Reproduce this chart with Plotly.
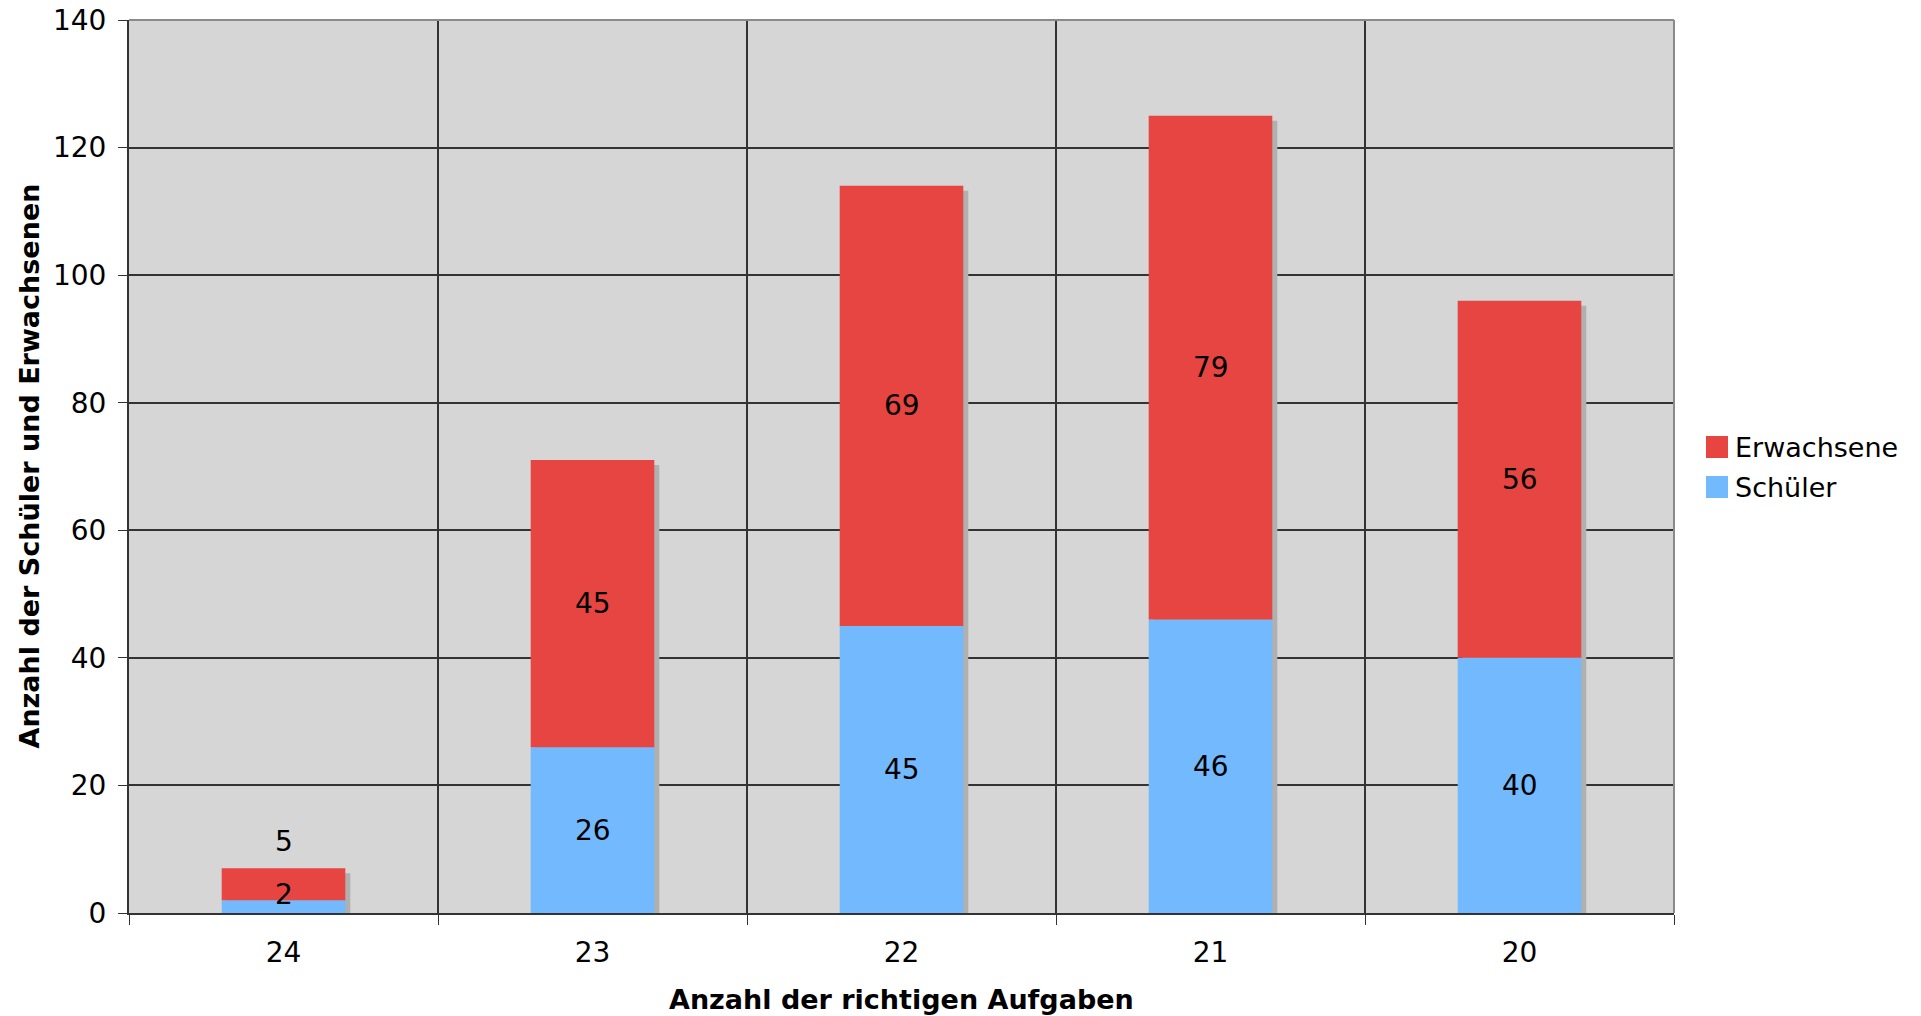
import plotly.graph_objects as go

categories = ["24", "23", "22", "21", "20"]
schueler = [2, 26, 45, 46, 40]
erwachsene = [5, 45, 69, 79, 56]
series_names = ["Erwachsene", "Schüler"]

RED = "#e64541"
BLUE = "#73b9fe"
SHADOW = "#b0b0b0"
FONT = "DejaVu Sans"

x = list(range(len(categories)))
totals = [s + e for s, e in zip(schueler, erwachsene)]

# page body has an 8px margin; plot box on screen: x 129..1674, y 20..913
OFF = 8
PL, PR, PT, PB = 129, 1674, 20, 913
W, H = 1905, 1008
ml, mt = PL - OFF, PT - OFF
mr = W - (PR - OFF)
mb = H - (PB - OFF)
plot_w = PR - PL
plot_h = PB - PT
ymax = 140
bw = 0.4
sx = 5 / (plot_w / len(categories))
sy = 5 / plot_h * ymax


def px(X):
    return (X - PL) / plot_w


def py(Y):
    return (PB - Y) / plot_h


fig = go.Figure()
fig.add_trace(go.Bar(x=x, y=[t - sy for t in totals], base=[0] * len(x), width=bw,
                     offset=-bw / 2 + sx, marker=dict(color=SHADOW, line_width=0),
                     showlegend=False, hoverinfo="skip"))
fig.add_trace(go.Bar(x=x, y=schueler, base=[0] * len(x), width=bw, offset=-bw / 2,
                     name="Schüler", marker=dict(color=BLUE, line_width=0), showlegend=False))
fig.add_trace(go.Bar(x=x, y=erwachsene, base=schueler, width=bw, offset=-bw / 2,
                     name="Erwachsene", marker=dict(color=RED, line_width=0), showlegend=False))

# labels
for i, (s, e) in enumerate(zip(schueler, erwachsene)):
    small = (s + e) < 15
    fig.add_annotation(x=x[i], y=s / 2, text=str(s), showarrow=False,
                       yshift=12 if small else 0, font=dict(family=FONT, size=28, color="black"))
    fig.add_annotation(x=x[i], y=s + e / 2, text=str(e), showarrow=False,
                       yshift=43 if small else 0, font=dict(family=FONT, size=28, color="black"))

# manual legend
for name, color, yc in zip(series_names, [RED, BLUE], [447, 487]):
    fig.add_shape(type="rect", xref="paper", yref="paper",
                  x0=px(1706), x1=px(1728), y0=py(yc + 11), y1=py(yc - 11),
                  fillcolor=color, line_width=0)
    fig.add_annotation(xref="paper", yref="paper", x=px(1733), y=py(yc),
                       xanchor="left", yanchor="middle", text=name, showarrow=False,
                       font=dict(family=FONT, size=27, color="black"))

# axis titles
fig.add_annotation(xref="paper", yref="paper", x=0.5, y=py(999),
                   yanchor="middle", text="<b>Anzahl der richtigen Aufgaben</b>",
                   showarrow=False, font=dict(family=FONT, size=27, color="black"))
fig.add_annotation(xref="paper", yref="paper", x=px(29), y=0.5,
                   xanchor="center", yanchor="middle", textangle=-90,
                   text="<b>Anzahl der Schüler und Erwachsenen</b>",
                   showarrow=False, font=dict(family=FONT, size=27, color="black"))

fig.update_layout(
    width=W, height=H,
    margin=dict(l=ml, r=mr, t=mt, b=mb, autoexpand=False),
    barmode="overlay",
    paper_bgcolor="white",
    plot_bgcolor="#d6d6d6",
    font=dict(family=FONT, size=27, color="black"),
    showlegend=False,
)
fig.update_xaxes(
    range=[-0.5, len(categories) - 0.5],
    tickvals=x, ticktext=categories,
    ticks="", showgrid=False, zeroline=False,
    showline=True, linecolor="#333333", linewidth=2,
    automargin=False, ticklabeloverflow="allow", ticklabelstandoff=13,
    tickfont=dict(size=28),
    minor=dict(tick0=0.5, dtick=1, ticks="outside", ticklen=10, tickcolor="#333333",
               showgrid=True, gridcolor="#333333", gridwidth=1.5),
)
fig.update_yaxes(
    range=[0, ymax], dtick=20,
    ticks="outside", ticklen=9, tickcolor="#333333",
    showgrid=True, gridcolor="#333333", gridwidth=1.5,
    zeroline=False, showline=True, linecolor="#333333", linewidth=2,
    automargin=False, ticklabeloverflow="allow", ticklabelstandoff=6,
    tickfont=dict(size=28),
)
# top and right frame
fig.add_shape(type="line", xref="paper", yref="paper", x0=0, x1=1, y0=1, y1=1,
              line=dict(color="#8a8a8a", width=2))
fig.add_shape(type="line", xref="paper", yref="paper", x0=1, x1=1, y0=0, y1=1,
              line=dict(color="#8a8a8a", width=2))

fig.write_html("out.html")
